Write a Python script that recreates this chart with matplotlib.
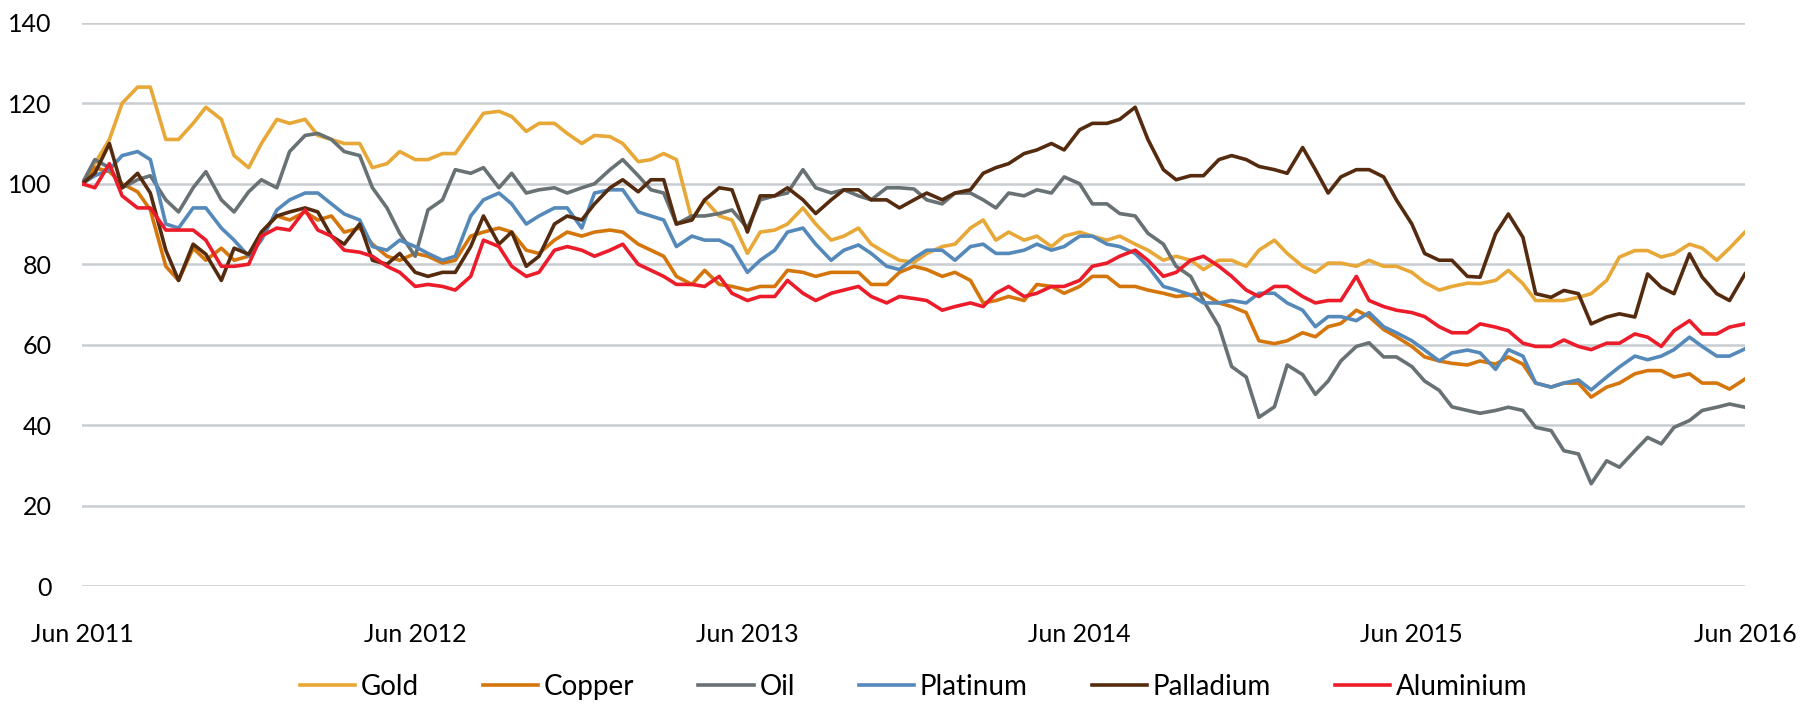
import numpy as np
import pandas as pd
import matplotlib
matplotlib.use('Agg')
import matplotlib.pyplot as plt
import matplotlib.dates as mdates

# semi-monthly readings, Jun 2011 -> Jun 2016 (index = 100 at start)
dates = pd.date_range('2011-06-01', '2016-06-01', freq='SMS')

gold = [100, 105, 111, 120, 124, 124, 111, 111, 115, 119, 116, 107, 104, 110, 116, 115, 116, 112, 111, 110, 110,
        104, 105, 108, 106, 106, 107.5, 107.5, 113, 117.5, 118, 116.7, 113, 115, 115, 112.5, 110, 112, 111.7, 110, 105.5,
        106, 107.5, 106, 91, 96, 92, 91, 82.7, 88, 88.5, 90, 94, 90, 86, 87, 89, 85, 82.7, 81, 80.5,
        82.7, 84.4, 85, 89, 91, 86, 88, 86, 87, 84.4, 87, 88, 87, 86, 87, 85, 83.5, 81, 82, 81,
        78.7, 81, 81, 79.5, 83.5, 86, 82.7, 79.5, 78, 80.3, 80.3, 79.5, 81, 79.5, 79.5, 78, 75.5, 73.6, 74.5, 75.3,
        75.2, 76, 78.5, 75.2, 71, 71, 71, 71.8, 72.7, 76, 81.8, 83.4, 83.4, 81.8, 82.6, 85, 84, 81, 84, 88]

copper = [100, 104, 103, 100, 98, 93.5, 79.5, 76, 84, 81, 84, 81, 82, 88, 92, 91, 93, 91, 92, 88, 89,
          85, 82, 81, 82.7, 82, 80.3, 81, 87, 88, 89, 88, 83.5, 82.7, 86, 88, 87, 88, 88.5, 88, 85,
          83.5, 82, 77, 75, 78.5, 75, 74.5, 73.6, 74.5, 74.5, 78.5, 78, 77, 78, 78, 78, 75, 75, 78, 79.5,
          78.7, 77, 78, 76, 70.4, 71, 72, 71, 75, 74.5, 72.8, 74.5, 77, 77, 74.5, 74.5, 73.6, 72.8, 72, 72.4,
          72.8, 70.4, 69.5, 68, 61, 60.3, 61, 63, 62, 64.5, 65.3, 68.6, 67, 63.8, 62, 59.6, 57, 56, 55.4, 55,
          56, 55.2, 57, 55.2, 50.5, 49.5, 50.5, 50.5, 47, 49.5, 50.5, 52.8, 53.6, 53.6, 52, 52.8, 50.5, 50.5, 49, 51.5]

oil = [100, 106, 104, 99, 101, 102, 96, 93, 99, 103, 96, 93, 98, 101, 99, 108, 112, 112.5, 111, 108, 107,
       99, 94, 87.7, 82, 93.5, 96, 103.5, 102.6, 104, 99, 102.6, 97.7, 98.5, 99, 97.7, 99, 100, 103.5, 106, 102,
       98.5, 97.7, 90, 92, 92, 92.6, 93.5, 89, 96, 97, 97.7, 103.5, 99, 97.7, 98.5, 97, 96, 99, 99, 98.7,
       96, 95, 97.7, 97.7, 96, 94, 97.7, 97, 98.5, 97.7, 101.7, 100, 95, 95, 92.6, 92, 87.7, 85, 79.5, 77,
       71, 64.6, 54.6, 52, 42, 44.6, 55, 52.6, 47.7, 51, 56, 59.6, 60.5, 57, 57, 54.6, 51, 48.7, 44.6, 43.7,
       43, 43.7, 44.5, 43.7, 39.5, 38.7, 33.7, 32.9, 25.5, 31.2, 29.6, 33.7, 37, 35.4, 39.5, 41.2, 43.7, 44.5, 45.3, 44.5]

platinum = [100, 102, 103.5, 107, 108, 106, 90, 89, 94, 94, 89, 86, 82, 86, 93.5, 96, 97.7, 97.7, 95, 92.5, 91,
            84.4, 83.5, 86, 84.4, 82.7, 81, 82, 92, 96, 97.7, 95, 90, 92, 94, 94, 89, 97.7, 98.5, 98.5, 93,
            92, 91, 84.4, 87, 86, 86, 84.4, 78, 81, 83.5, 88, 89, 85, 81, 83.5, 84.8, 82.7, 79.5, 78.7, 81.5,
            83.5, 83.5, 81, 84.4, 85, 82.7, 82.7, 83.5, 85, 83.5, 84.4, 87, 87, 85, 84.4, 82.7, 79.5, 74.5, 73.6, 72.4,
            70.4, 70.4, 71, 70.4, 72.8, 72.8, 70.4, 68.6, 64.5, 67, 67, 66, 68, 64.5, 63, 61, 58.7, 56, 58, 58.7,
            58, 53.9, 58.8, 57.2, 50.5, 49.5, 50.5, 51.3, 48.8, 52, 54.5, 57.2, 56.3, 57.2, 58.8, 61.9, 59.6, 57.2, 57.2, 59]

palladium = [100, 102.6, 110, 99, 102.6, 97.7, 83.5, 76, 85, 82.5, 76, 84, 82.5, 88, 92, 93, 94, 93, 87, 85, 90,
             81, 80, 82.7, 78, 77, 78, 78, 84.4, 92, 85, 88, 79.5, 82, 90, 92, 91, 95, 99, 101, 98,
             101, 101, 90, 91, 96, 99, 98.5, 88, 97, 97, 99, 96, 92.6, 96, 98.5, 98.5, 96, 96, 94, 96,
             97.7, 96, 97.7, 98.5, 102.6, 104, 105, 107.5, 108.4, 110, 108.4, 113.4, 115, 115, 116, 119, 111, 103.5, 101, 102,
             102, 106, 107, 106, 104.3, 103.5, 102.6, 109, 103.5, 97.7, 101.7, 103.5, 103.5, 101.7, 96, 90, 82.7, 81, 81, 77,
             76.8, 87.6, 92.5, 86.7, 72.7, 71.8, 73.5, 72.7, 65.2, 66.9, 67.7, 66.9, 77.6, 74.3, 72.7, 82.6, 76.8, 72.7, 71, 77.6]

aluminium = [100, 99, 105, 97, 94, 94, 88.5, 88.5, 88.5, 86, 79.5, 79.5, 80, 87, 89, 88.5, 93.5, 88.5, 87, 83.5, 83,
             82, 79.5, 78, 74.5, 75, 74.5, 73.6, 77, 86, 84.4, 79.5, 77, 78, 83.5, 84.4, 83.5, 82, 83.5, 85, 80,
             78.5, 77, 75, 75, 74.5, 77, 72.8, 71, 72, 72, 76, 72.8, 71, 72.8, 73.6, 74.5, 72, 70.4, 72, 71.5,
             71, 68.6, 69.5, 70.4, 69.5, 72.8, 74.5, 72, 72.8, 74.5, 74.5, 76, 79.5, 80.3, 82, 83.5, 81, 77, 78, 81,
             82, 79.5, 77, 73.6, 72, 74.5, 74.5, 72, 70.4, 71, 71, 77, 71, 69.5, 68.6, 68, 67, 64.5, 63, 63,
             65.2, 64.4, 63.5, 60.4, 59.6, 59.6, 61.2, 59.6, 58.8, 60.4, 60.4, 62.7, 61.9, 59.6, 63.5, 66, 62.7, 62.7, 64.4, 65.2]

names = ['Gold', 'Copper', 'Oil', 'Platinum', 'Palladium', 'Aluminium']
series = [gold, copper, oil, platinum, palladium, aluminium]
colors = ['#E8A838', '#D5760C', '#687174', '#5589BA', '#552B10', '#EC1C2A']

plt.rcParams['font.family'] = ['Lato', 'DejaVu Sans']

fig = plt.figure(figsize=(18.16, 7.05), dpi=100)
ax = fig.add_axes([0.0452, 0.1682, 0.9157, 0.7996])

for vals, name, col in zip(series, names, colors):
    ax.plot(dates, vals, color=col, lw=2.6, label=name)

ax.set_ylim(0, 140)
ax.set_yticks(np.arange(0, 141, 20))
ax.set_xlim(pd.Timestamp('2011-06-01'), pd.Timestamp('2016-06-01'))
ax.xaxis.set_major_locator(mdates.MonthLocator(bymonth=6))
ax.xaxis.set_major_formatter(mdates.DateFormatter('Jun %Y'))

ax.grid(axis='y', color='#C9CDD1', lw=1.8)
ax.set_axisbelow(True)
for s in ax.spines.values():
    s.set_visible(False)
ax.tick_params(axis='both', length=0, labelsize=18, colors='black')
ax.tick_params(axis='y', pad=22)
ax.tick_params(axis='x', pad=26)

ax.legend(loc='center', bbox_to_anchor=(0.5, -0.178), ncol=6, frameon=False,
          fontsize=20, handlelength=2.0, handletextpad=0.2, columnspacing=2.3)

fig.savefig('out.png', dpi=100)
